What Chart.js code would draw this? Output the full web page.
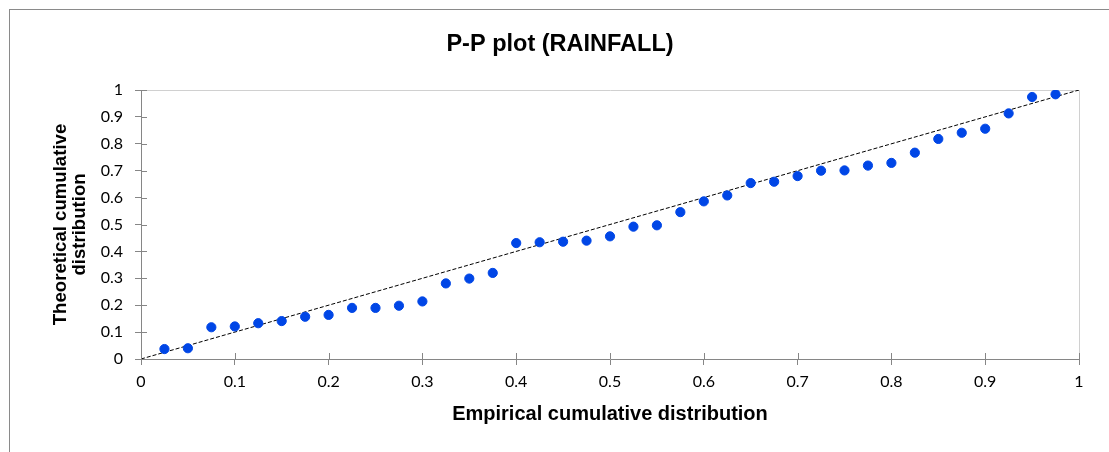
<!DOCTYPE html>
<html>
<head>
<meta charset="utf-8">
<script src="https://cdn.jsdelivr.net/npm/chart.js@4.4.1/dist/chart.umd.min.js"></script>
<style>
  html, body { margin: 0; padding: 0; background: #fff; overflow: hidden; }
  #wrap { position: relative; width: 1109px; height: 452px; overflow: hidden; }
  #frame { position: absolute; left: 9px; top: 9px; width: 1200px; height: 600px; border: 1px solid #8a8a8a; }
  #chart { position: absolute; left: 0; top: 0; }
</style>
</head>
<body>
<div id="wrap">
  <div id="frame"></div>
  <canvas id="chart" width="1109" height="452"></canvas>
</div>
<script>
// empirical cumulative distribution (x) and theoretical values (y)
const empirical = [0.025, 0.05, 0.075, 0.1, 0.125, 0.15, 0.175, 0.2, 0.225, 0.25,
  0.275, 0.3, 0.325, 0.35, 0.375, 0.4, 0.425, 0.45, 0.475, 0.5,
  0.525, 0.55, 0.575, 0.6, 0.625, 0.65, 0.675, 0.7, 0.725, 0.75,
  0.775, 0.8, 0.825, 0.85, 0.875, 0.9, 0.925, 0.95, 0.975];
const theoretical = [0.037, 0.040, 0.118, 0.121, 0.133, 0.141, 0.157, 0.164, 0.190, 0.190,
  0.198, 0.214, 0.281, 0.299, 0.320, 0.431, 0.434, 0.436, 0.440, 0.456,
  0.492, 0.497, 0.546, 0.586, 0.608, 0.654, 0.659, 0.680, 0.700, 0.701,
  0.719, 0.729, 0.767, 0.818, 0.841, 0.856, 0.913, 0.974, 0.984];
const diagX = [0, 1];
const diagY = [0, 1];

const axisColor = "#868686";

// plot frame (top/right) and ticks that cross the axes
const framePlugin = {
  id: "frame",
  beforeDatasetsDraw(chart) {
    const { ctx, chartArea: a } = chart;
    ctx.save();
    ctx.strokeStyle = "#d0d0d0";
    ctx.lineWidth = 1;
    ctx.beginPath();
    ctx.moveTo(a.left, a.top + 0.5);
    ctx.lineTo(a.right + 0.5, a.top + 0.5);
    ctx.lineTo(a.right + 0.5, a.bottom);
    ctx.stroke();
    ctx.restore();
  },
  afterDraw(chart) {
    const { ctx } = chart;
    const xs = chart.scales.x, ys = chart.scales.y;
    ctx.save();
    ctx.strokeStyle = axisColor;
    ctx.lineWidth = 1;
    ctx.beginPath();
    xs.ticks.forEach(t => {
      const px = Math.round(xs.getPixelForValue(t.value)) + 0.5;
      ctx.moveTo(px, ys.bottom);
      ctx.lineTo(px, ys.bottom - 6);
    });
    ys.ticks.forEach(t => {
      const py = Math.round(ys.getPixelForValue(t.value)) + 0.5;
      ctx.moveTo(xs.left, py);
      ctx.lineTo(xs.left + 6, py);
    });
    ctx.stroke();
    ctx.restore();
  }
};

const fmt = v => String(Number(v.toFixed(1)));

new Chart(document.getElementById("chart").getContext("2d"), {
  type: "scatter",
  data: {
    datasets: [{
      label: "RAINFALL",
      data: empirical.map((x, i) => ({ x: x, y: theoretical[i] })),
      backgroundColor: "#0046e6",
      borderColor: "#0046e6",
      pointRadius: 4.6,
      pointHoverRadius: 4.6
    }, {
      type: "line",
      label: "diagonal",
      data: diagX.map((x, i) => ({ x: x, y: diagY[i] })),
      borderColor: "#000000",
      borderWidth: 1,
      borderDash: [4, 2],
      pointRadius: 0,
      fill: false
    }]
  },
  options: {
    responsive: false,
    animation: false,
    layout: { padding: { top: 0, right: 30, bottom: 0, left: 41 } },
    plugins: {
      legend: { display: false },
      tooltip: { enabled: false },
      title: {
        display: true,
        text: "P-P plot (RAINFALL)",
        color: "#000000",
        font: { family: "'Liberation Sans', Arial, sans-serif", size: 23.5, weight: "bold", lineHeight: 1.2 },
        padding: { top: 30, bottom: 31.8 }
      }
    },
    scales: {
      x: {
        type: "linear",
        min: 0,
        max: 1,
        ticks: {
          stepSize: 0.1,
          color: "#000000",
          padding: 7,
          font: { family: "Lato, 'Open Sans', sans-serif", size: 16 },
          callback: v => fmt(v)
        },
        grid: { display: true, drawOnChartArea: false, drawTicks: true, tickLength: 6, color: axisColor },
        border: { display: true, color: axisColor, width: 1 },
        title: {
          display: true,
          text: "Empirical cumulative distribution",
          color: "#000000",
          font: { family: "'Liberation Sans', Arial, sans-serif", size: 20, weight: "bold", lineHeight: 1.2 },
          padding: { top: 0, bottom: 26 }
        },
        afterFit(scale) { scale.height = 93; }
      },
      y: {
        type: "linear",
        min: 0,
        max: 1,
        ticks: {
          stepSize: 0.1,
          color: "#000000",
          padding: 12,
          font: { family: "Lato, 'Open Sans', sans-serif", size: 16 },
          callback: v => fmt(v)
        },
        grid: { display: true, drawOnChartArea: false, drawTicks: true, tickLength: 6, color: axisColor },
        border: { display: true, color: axisColor, width: 1 },
        title: {
          display: true,
          text: ["Theoretical cumulative", "distribution"],
          color: "#000000",
          font: { family: "'Liberation Sans', Arial, sans-serif", size: 18.6, weight: "bold", lineHeight: 1.0 },
          padding: { top: 11, bottom: 0 }
        },
        afterFit(scale) { scale.width = 100; }
      }
    }
  },
  plugins: [framePlugin]
});
</script>
</body>
</html>
